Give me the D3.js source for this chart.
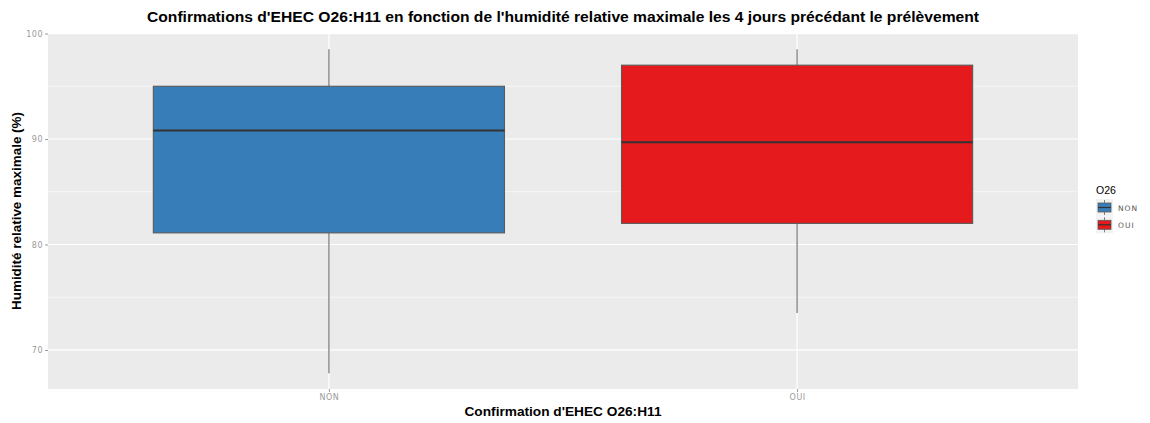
<!DOCTYPE html>
<html>
<head>
<meta charset="utf-8">
<script src="https://cdn.jsdelivr.net/npm/d3@7"></script>
<style>
  body { margin: 0; background: #fff; }
  svg { display: block; font-family: "Liberation Sans", Arial, sans-serif; }
</style>
</head>
<body>
<svg id="svg" width="1150" height="423"></svg>
<script>
//Data
const CATEGORIES = ["NON", "OUI"];
const WHISKER_LOW = [67.8, 73.5];
const Q1 = [81.1, 82.0];
const MEDIAN = [90.8, 89.7];
const Q3 = [95.0, 97.0];
const WHISKER_HIGH = [98.5, 98.5];
const Y_TICKS = [70, 80, 90, 100];
const Y_MINOR = [75, 85, 95];
const COLORS = { "NON": "#377EB8", "OUI": "#E41A1C" };

//Layout
const PANEL = { left: 48, right: 1078, top: 33, bottom: 389 };

let svg = d3.select("#svg");

let x_scale = d3.scalePoint()
    .domain(CATEGORIES)
    .range([PANEL.left, PANEL.right])
    .padding(0.6);

let y_scale = d3.scaleLinear()
    .domain([66.3, 100.05])
    .range([PANEL.bottom, PANEL.top]);

const BOX_W = x_scale.step() * 0.75;

//Panel background
svg.append("rect")
    .attr("x", PANEL.left).attr("y", PANEL.top)
    .attr("width", PANEL.right - PANEL.left)
    .attr("height", PANEL.bottom - PANEL.top)
    .attr("fill", "#EBEBEB");

//Grid
let grid = svg.append("g");
grid.selectAll(".minor").data(Y_MINOR).enter().append("line")
    .attr("x1", PANEL.left).attr("x2", PANEL.right)
    .attr("y1", d => y_scale(d)).attr("y2", d => y_scale(d))
    .attr("stroke", "#fff").attr("stroke-width", 0.6);
grid.selectAll(".major").data(Y_TICKS).enter().append("line")
    .attr("x1", PANEL.left).attr("x2", PANEL.right)
    .attr("y1", d => y_scale(d)).attr("y2", d => y_scale(d))
    .attr("stroke", "#fff").attr("stroke-width", 1.2);
grid.selectAll(".vmajor").data(CATEGORIES).enter().append("line")
    .attr("x1", d => x_scale(d)).attr("x2", d => x_scale(d))
    .attr("y1", PANEL.top).attr("y2", PANEL.bottom)
    .attr("stroke", "#fff").attr("stroke-width", 1.2);

//Axes
let y_axis = d3.axisLeft(y_scale).tickValues(Y_TICKS).tickSize(3).tickPadding(2);
let gy = svg.append("g").attr("transform", "translate(" + PANEL.left + ",0)").call(y_axis);
let x_axis = d3.axisBottom(x_scale).tickSize(3).tickPadding(2);
let gx = svg.append("g").attr("transform", "translate(0," + PANEL.bottom + ")").call(x_axis);
[gy, gx].forEach(g => {
    g.select(".domain").remove();
    g.selectAll(".tick line").attr("stroke", "#9a9a9a");
    g.selectAll(".tick text")
        .attr("fill", "#999")
        .attr("font-size", 8)
        .attr("font-family", "DejaVu Sans, sans-serif")
        .attr("letter-spacing", 0.5);
});

//Boxes
let boxes = svg.append("g").selectAll("g").data(CATEGORIES).enter().append("g");
boxes.append("line")
    .attr("x1", d => x_scale(d)).attr("x2", d => x_scale(d))
    .attr("y1", (d, i) => y_scale(WHISKER_HIGH[i]))
    .attr("y2", (d, i) => y_scale(Q3[i]))
    .attr("stroke", "#7f7f7f").attr("stroke-width", 1.3);
boxes.append("line")
    .attr("x1", d => x_scale(d)).attr("x2", d => x_scale(d))
    .attr("y1", (d, i) => y_scale(Q1[i]))
    .attr("y2", (d, i) => y_scale(WHISKER_LOW[i]))
    .attr("stroke", "#7f7f7f").attr("stroke-width", 1.3);
boxes.append("rect")
    .attr("x", d => x_scale(d) - BOX_W / 2)
    .attr("width", BOX_W)
    .attr("y", (d, i) => y_scale(Q3[i]))
    .attr("height", (d, i) => y_scale(Q1[i]) - y_scale(Q3[i]))
    .attr("fill", d => COLORS[d])
    .attr("stroke", "#5a5a5a").attr("stroke-width", 1.1);
boxes.append("line")
    .attr("x1", d => x_scale(d) - BOX_W / 2).attr("x2", d => x_scale(d) + BOX_W / 2)
    .attr("y1", (d, i) => y_scale(MEDIAN[i]))
    .attr("y2", (d, i) => y_scale(MEDIAN[i]))
    .attr("stroke", "#333").attr("stroke-width", 2);

//Titles
svg.append("text")
    .attr("x", (PANEL.left + PANEL.right) / 2).attr("y", 22)
    .attr("text-anchor", "middle")
    .attr("font-size", 14.5).attr("font-weight", "bold")
    .attr("textLength", 832).attr("lengthAdjust", "spacingAndGlyphs")
    .text("Confirmations d'EHEC O26:H11 en fonction de l'humidité relative maximale les 4 jours précédant le prélèvement");

svg.append("text")
    .attr("x", (PANEL.left + PANEL.right) / 2).attr("y", 416)
    .attr("text-anchor", "middle")
    .attr("font-size", 13).attr("font-weight", "bold")
    .attr("textLength", 197).attr("lengthAdjust", "spacingAndGlyphs")
    .text("Confirmation d'EHEC O26:H11");

svg.append("text")
    .attr("transform", "translate(21," + ((PANEL.top + PANEL.bottom) / 2) + ") rotate(-90)")
    .attr("text-anchor", "middle")
    .attr("font-size", 13).attr("font-weight", "bold")
    .attr("textLength", 198).attr("lengthAdjust", "spacingAndGlyphs")
    .text("Humidité relative maximale (%)");

//Legend
let legend = svg.append("g").attr("transform", "translate(1096,0)");
legend.append("text")
    .attr("x", 0).attr("y", 194)
    .attr("font-size", 10.5)
    .text("O26");
let keys = legend.selectAll(".key").data(CATEGORIES).enter().append("g")
    .attr("transform", (d, i) => "translate(0," + (199 + i * 17.3) + ")");
keys.append("rect")
    .attr("width", 17).attr("height", 17)
    .attr("fill", "#F2F2F2");
keys.append("line")
    .attr("x1", 8.5).attr("x2", 8.5).attr("y1", 1).attr("y2", 16)
    .attr("stroke", "#7f7f7f").attr("stroke-width", 1);
keys.append("rect")
    .attr("x", 2).attr("y", 4).attr("width", 13).attr("height", 9)
    .attr("fill", d => COLORS[d])
    .attr("stroke", "#5a5a5a").attr("stroke-width", 0.8);
keys.append("line")
    .attr("x1", 2).attr("x2", 15).attr("y1", 8.5).attr("y2", 8.5)
    .attr("stroke", "#333").attr("stroke-width", 1.2);
keys.append("text")
    .attr("x", 22).attr("y", 11.5)
    .attr("font-size", 7.5)
    .attr("font-family", "DejaVu Sans, sans-serif")
    .attr("letter-spacing", 1)
    .attr("fill", "#555")
    .text(d => d);
</script>
</body>
</html>
